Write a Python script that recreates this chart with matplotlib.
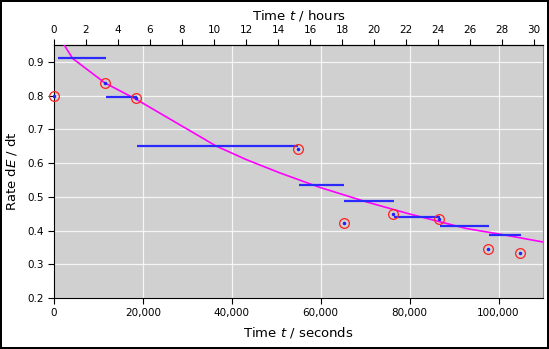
import numpy as np
import matplotlib
matplotlib.use("Agg")
import matplotlib.pyplot as plt
from matplotlib.ticker import FuncFormatter, MultipleLocator

# measured rates (red circles)
t_meas = [0, 11460, 18500, 54900, 65170, 76250, 86520, 97600, 104780]
rate_meas = [0.800, 0.837, 0.794, 0.643, 0.423, 0.449, 0.433, 0.346, 0.332]

# interval averages (blue horizontal bars)
seg_start = [800, 11700, 18700, 55000, 65300, 76400, 86900, 97750]
seg_end = [11700, 18700, 54900, 65300, 76400, 86900, 97750, 104940]
seg_rate = [0.910, 0.796, 0.652, 0.536, 0.488, 0.440, 0.413, 0.386]

# fitted curve (magenta)
t_fit = [0, 4200, 11460, 18490, 26810, 36400, 43300, 50780, 59770,
         70270, 80000, 92740, 101300, 110000]
rate_fit = [0.998, 0.910, 0.8375, 0.789, 0.725, 0.651, 0.610, 0.571, 0.528,
            0.485, 0.449, 0.406, 0.387, 0.366]

hour_ticks = list(range(0, 31, 2))

fig = plt.figure(figsize=(5.49, 3.49), dpi=100)
fig.patch.set_edgecolor("black")
fig.patch.set_linewidth(1.5)
ax = fig.add_axes([54/549, (349-298)/349, (543-54)/549, (298-45)/349])
ax.set_facecolor("#d0d0d0")

ax.plot(t_fit, rate_fit, color="#ff00ff", lw=1.2, zorder=3)
ax.hlines(seg_rate, seg_start, seg_end, color="#2a2aff", lw=1.6, zorder=4)
ax.plot(t_meas, rate_meas, "o", ms=7, mfc="none", mec="#ff2020", mew=0.9, zorder=5, clip_on=False)
ax.plot(t_meas, rate_meas, "o", ms=1.5, color="#2020ff", zorder=6, clip_on=False)

ax.set_xlim(0, 110000)
ax.set_ylim(0.2, 0.95)
ax.xaxis.set_major_locator(MultipleLocator(20000))
ax.yaxis.set_major_locator(MultipleLocator(0.1))
ax.xaxis.set_major_formatter(FuncFormatter(lambda v, p: f"{int(v):,}"))
ax.grid(color="white", lw=0.9, alpha=0.8)
ax.set_axisbelow(True)
ax.tick_params(labelsize=7.5, direction="out", length=4, colors="black")
ax.spines["right"].set_color("#888888")

sec = ax.secondary_xaxis("top", functions=(lambda s: s / 3600, lambda h: h * 3600))
sec.set_xticks(hour_ticks)
sec.set_xticklabels([str(h) for h in hour_ticks])
sec.tick_params(labelsize=7.5, direction="out", length=4)
sec.set_xlabel(r"Time $t$ / hours", fontsize=9.5, labelpad=4)

ax.set_xlabel(r"Time $t$ / seconds", fontsize=9.5, labelpad=5)
ax.set_ylabel(r"Rate d$E$ / dt", fontsize=9.5, labelpad=6)

fig.savefig("out.png", dpi=100, edgecolor=fig.get_edgecolor())
